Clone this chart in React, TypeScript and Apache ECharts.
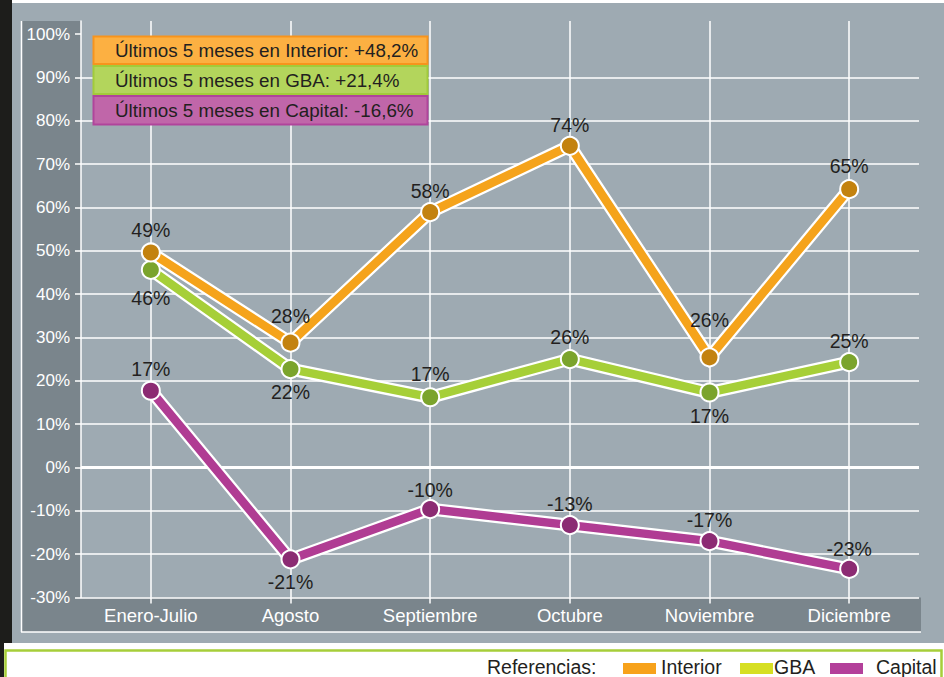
import React, { useEffect, useRef } from "react";
import * as echarts from "echarts";

const categories = ["Enero-Julio", "Agosto", "Septiembre", "Octubre", "Noviembre", "Diciembre"];
const interiorValues = [49.6, 28.8, 58.9, 74.2, 25.4, 64.2];
const gbaValues = [45.6, 22.7, 16.2, 25.0, 17.3, 24.3];
const capitalValues = [17.7, -21.2, -9.6, -13.3, -17.0, -23.4];
const interiorLabels = ["49%", "28%", "58%", "74%", "26%", "65%"];
const gbaLabels = ["46%", "22%", "17%", "26%", "17%", "25%"];
const capitalLabels = ["17%", "-21%", "-10%", "-13%", "-17%", "-23%"];
const yTickValues = [-30, -20, -10, 0, 10, 20, 30, 40, 50, 60, 70, 80, 90, 100];
const summaryTexts = [
  "Últimos 5 meses en Interior: +48,2%",
  "Últimos 5 meses en GBA: +21,4%",
  "Últimos 5 meses en Capital: -16,6%",
];
const legendTitle = "Referencias:";
const legendNames = ["Interior", "GBA", "Capital"];

// style-only: vertical offsets of the value labels relative to the markers
const interiorLabelDy = [-22, -27, -21, -21, -37, -23];
const gbaLabelDy = [28, 23, -23, -22, 24, -21];
const capitalLabelDy = [-22, 23, -19, -21, -21, -20];

const FONT = '"Liberation Sans", Arial, Helvetica, sans-serif';
const TEXT = "#231f20";

function makeSeries(
  name: string,
  values: number[],
  labels: string[],
  dys: number[],
  lineColor: string,
  markerColor: string
) {
  return [
    {
      type: "line",
      name: name + "-outline",
      data: values,
      symbol: "none",
      silent: true,
      lineStyle: { color: "#ffffff", width: 13, join: "miter" },
      z: 3,
    },
    {
      type: "line",
      name,
      data: values.map((v, i) => ({
        value: v,
        label: {
          show: true,
          formatter: labels[i],
          position: "inside",
          offset: [0, dys[i]],
        },
      })),
      symbol: "circle",
      symbolSize: 18,
      itemStyle: { color: markerColor, borderColor: "#ffffff", borderWidth: 2 },
      lineStyle: { color: lineColor, width: 8.5, join: "miter" },
      label: { show: true, color: TEXT, fontSize: 19.5, fontFamily: FONT },
      z: 3,
    },
  ];
}

export default function App() {
  const ref = useRef<HTMLDivElement>(null);

  useEffect(() => {
    if (!ref.current) return;
    const chart = echarts.init(ref.current, undefined, { renderer: "svg" });

    const boxStyles = [
      { fill: "#fcb042", stroke: "#f7941d", y: 36.5, h: 27.5 },
      { fill: "#b3d55c", stroke: "#a2cb3a", y: 66, h: 28 },
      { fill: "#c066a9", stroke: "#b0449b", y: 96, h: 28.5 },
    ];
    const swatches = [
      { color: "#f7a21b", x: 623, tx: 661 },
      { color: "#d6df23", x: 740, tx: 774 },
      { color: "#b3409a", x: 830, tx: 876 },
    ];

    const graphic: any[] = [
      { type: "rect", z: -10, shape: { x: 0, y: 0, width: 12, height: 643 }, style: { fill: "#1d1d1b" } },
      { type: "rect", z: -10, shape: { x: 0, y: 643, width: 4, height: 34 }, style: { fill: "#1d1d1b" } },
      { type: "rect", z: -10, shape: { x: 12, y: 3, width: 932, height: 640 }, style: { fill: "#9eaab2" } },
      { type: "rect", z: -9, shape: { x: 21, y: 21, width: 60, height: 611 }, style: { fill: "#7a858c" } },
      { type: "rect", z: -9, shape: { x: 21, y: 597.5, width: 900, height: 34.5 }, style: { fill: "#7a858c" } },
      { type: "line", z: -8, shape: { x1: 21.5, y1: 21, x2: 21.5, y2: 632 }, style: { stroke: "#ffffff", lineWidth: 1.5 } },
      { type: "line", z: -8, shape: { x1: 21, y1: 632, x2: 921, y2: 632 }, style: { stroke: "#ffffff", lineWidth: 1.5 } },
      {
        type: "rect",
        z: -10,
        shape: { x: 5.5, y: 650.5, width: 936, height: 40 },
        style: { fill: "#ffffff", stroke: "#a6ce39", lineWidth: 2.5 },
      },
      {
        type: "text",
        z: 10,
        x: 487,
        y: 667,
        style: { text: legendTitle, fill: TEXT, font: `19.5px ${FONT}`, verticalAlign: "middle", align: "left" },
      },
    ];

    boxStyles.forEach((b, i) => {
      graphic.push({
        type: "rect",
        z: 50,
        shape: { x: 93.5, y: b.y, width: 334, height: b.h },
        style: { fill: b.fill, stroke: b.stroke, lineWidth: 2 },
      });
      graphic.push({
        type: "text",
        z: 51,
        x: 115,
        y: b.y + b.h / 2 + 0.5,
        style: { text: summaryTexts[i], fill: TEXT, font: `18.8px ${FONT}`, verticalAlign: "middle", align: "left" },
      });
    });

    swatches.forEach((s, i) => {
      graphic.push({
        type: "rect",
        z: 10,
        shape: { x: s.x, y: 663, width: 33, height: 11 },
        style: { fill: s.color },
      });
      graphic.push({
        type: "text",
        z: 10,
        x: s.tx,
        y: 667,
        style: { text: legendNames[i], fill: TEXT, font: `19.5px ${FONT}`, verticalAlign: "middle", align: "left" },
      });
    });

    const series: any[] = [
      ...makeSeries("Capital", capitalValues, capitalLabels, capitalLabelDy, "#b03c93", "#8c2b73"),
      ...makeSeries("GBA", gbaValues, gbaLabels, gbaLabelDy, "#a6cf38", "#7ba42c"),
      ...makeSeries("Interior", interiorValues, interiorLabels, interiorLabelDy, "#f5a31b", "#c3820f"),
    ];
    // zero line
    series[0].markLine = {
      silent: true,
      symbol: "none",
      label: { show: false },
      lineStyle: { color: "#ffffff", width: 3, type: "solid" },
      data: [{ yAxis: 0 }],
      z: 1,
    };

    chart.setOption({
      animation: false,
      backgroundColor: "#ffffff",
      graphic,
      grid: { left: 81, right: 25, top: 21, bottom: 79.5, containLabel: false },
      xAxis: {
        type: "category",
        data: categories,
        boundaryGap: true,
        axisLine: { show: false, onZero: false },
        axisTick: { show: true, alignWithLabel: true, length: 6, lineStyle: { color: "#ffffff", width: 1.5 } },
        axisLabel: { color: "#ffffff", fontSize: 18.5, fontFamily: FONT, margin: 8 },
        splitLine: { show: true, alignWithLabel: true, lineStyle: { color: "#ffffff", width: 1.5 } },
      },
      yAxis: {
        type: "value",
        min: -30,
        max: 103,
        interval: 10,
        axisLine: { show: true, lineStyle: { color: "#ffffff", width: 1.5 } },
        axisTick: {
          show: true,
          length: 6,
          customValues: yTickValues,
          lineStyle: { color: "#ffffff", width: 1.5 },
        },
        axisLabel: {
          color: "#ffffff",
          fontSize: 17,
          fontFamily: FONT,
          margin: 11,
          customValues: yTickValues,
          formatter: "{value}%",
        },
        splitLine: { show: true, showMaxLine: false, lineStyle: { color: "#ffffff", width: 1.5 } },
      },
      series,
    });

    return () => chart.dispose();
  }, []);

  return (
    <div
      ref={ref}
      style={{ position: "fixed", left: 0, top: 0, width: 944, height: 677 }}
    />
  );
}
